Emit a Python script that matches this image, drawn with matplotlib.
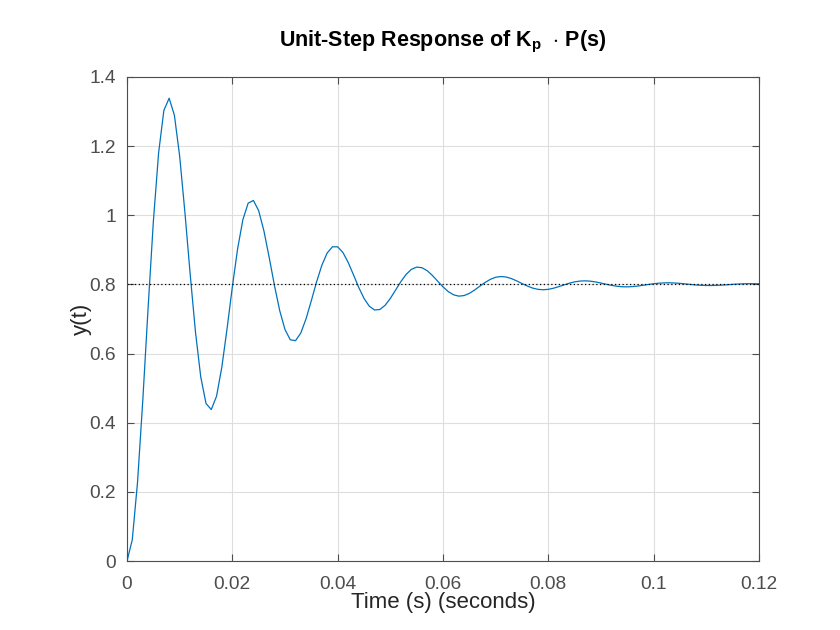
import matplotlib
matplotlib.use("Agg")
import matplotlib.pyplot as plt
import numpy as np

# step response samples (1 ms spacing)
t_ms = np.arange(0, 121)
y_vals = [
    0.0000, 0.0614, 0.2284, 0.4657, 0.7309, 0.9813, 1.1806, 1.3034, 1.3386, 1.2891,
    1.1705, 1.0074, 0.8284, 0.6623, 0.5325, 0.4557, 0.4381, 0.4767, 0.5604, 0.6724,
    0.7929, 0.9031, 0.9873, 1.0350, 1.0429, 1.0133, 0.9544, 0.8778, 0.7967, 0.7238,
    0.6694, 0.6399, 0.6373, 0.6596, 0.7008, 0.7532, 0.8076, 0.8557, 0.8908, 0.9089,
    0.9088, 0.8923, 0.8634, 0.8278, 0.7913, 0.7596, 0.7370, 0.7261, 0.7274, 0.7395,
    0.7596, 0.7838, 0.8082, 0.8291, 0.8436, 0.8501, 0.8484, 0.8396, 0.8257, 0.8092,
    0.7929, 0.7792, 0.7700, 0.7661, 0.7678, 0.7741, 0.7838, 0.7950, 0.8058, 0.8148,
    0.8207, 0.8229, 0.8214, 0.8168, 0.8102, 0.8026, 0.7954, 0.7895, 0.7858, 0.7846,
    0.7858, 0.7891, 0.7937, 0.7988, 0.8036, 0.8074, 0.8097, 0.8104, 0.8094, 0.8071,
    0.8039, 0.8005, 0.7973, 0.7948, 0.7933, 0.7930, 0.7938, 0.7954, 0.7976, 0.7999,
    0.8020, 0.8036, 0.8045, 0.8047, 0.8041, 0.8030, 0.8015, 0.7999, 0.7985, 0.7975,
    0.7969, 0.7969, 0.7973, 0.7981, 0.7991, 0.8002, 0.8011, 0.8018, 0.8021, 0.8021,
    0.8018,
]
final_value = 0.8

x_ticks = [0, 0.02, 0.04, 0.06, 0.08, 0.1, 0.12]
x_tick_labels = ["0", "0.02", "0.04", "0.06", "0.08", "0.1", "0.12"]
y_ticks = [0, 0.2, 0.4, 0.6, 0.8, 1, 1.2, 1.4]
y_tick_labels = ["0", "0.2", "0.4", "0.6", "0.8", "1", "1.2", "1.4"]

plt.rcParams["font.family"] = ["Liberation Sans", "DejaVu Sans"]
plt.rcParams["mathtext.fontset"] = "custom"
plt.rcParams["mathtext.rm"] = "Liberation Sans"
plt.rcParams["mathtext.bf"] = "Liberation Sans:bold"

fig = plt.figure(figsize=(8.4, 6.3), dpi=100)
ax = fig.add_axes([0.1512, 0.1095, 0.7524, 0.7683])

t = t_ms / 1000.0
ax.plot(t, y_vals, color="#0072BD", linewidth=0.9)
ax.axhline(final_value, color="black", linestyle=(0, (1, 2)), linewidth=0.9)

ax.set_xlim(0, 0.12)
ax.set_ylim(0, 1.4)
ax.set_xticks(x_ticks)
ax.set_xticklabels(x_tick_labels)
ax.set_yticks(y_ticks)
ax.set_yticklabels(y_tick_labels)

ax.grid(True, color="#dedede", linewidth=0.8)
ax.set_axisbelow(True)
for sp in ax.spines.values():
    sp.set_color("#4d4d4d")
    sp.set_linewidth(0.8)
ax.tick_params(direction="in", top=True, right=True, length=5, width=0.8,
               colors="#4d4d4d", labelsize=13.8)
ax.tick_params(axis="x", pad=11)
ax.tick_params(axis="y", pad=8)

ax.set_xlabel("Time (s) (seconds)", fontsize=16, color="#262626", labelpad=-1)
ax.set_ylabel("y(t)", fontsize=16, color="#262626", labelpad=-2)
ax.set_title(r"Unit-Step Response of K$_\mathbf{p}$  $\cdot$ P(s)",
             fontsize=15.5, fontweight="bold", color="black", pad=22)

fig.savefig("out.png", dpi=100, facecolor="white")
